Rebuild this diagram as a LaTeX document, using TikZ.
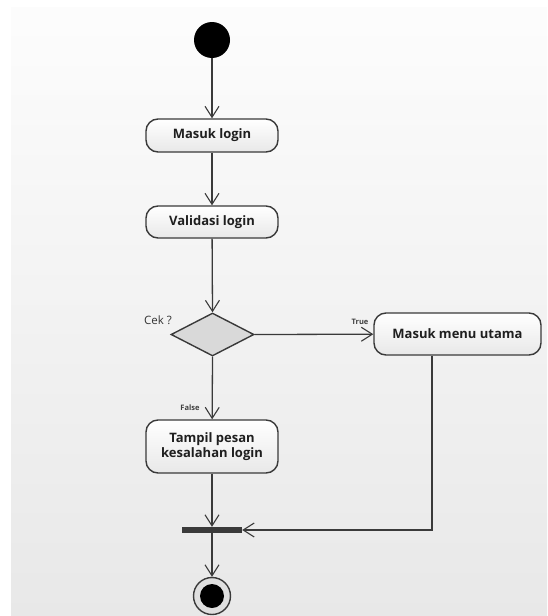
\documentclass[tikz,border=0pt]{standalone}
\usepackage{fontspec}
\setmainfont{Open Sans}
\usetikzlibrary{arrows.meta,shapes.geometric}
\definecolor{lineC}{HTML}{3A3A3A}
\tikzset{
  act/.style={rounded corners=12pt, draw=lineC, line width=1.4pt, top color=white, bottom color=gray!18,
    font=\fontsize{13}{15.5}\selectfont\bfseries, text=black!88, align=center, inner sep=0pt},
  flow/.style={draw=lineC, line width=1.3pt, -{Straight Barb[length=11pt,width=14pt,line width=1.1pt]}},
  smalllbl/.style={font=\fontsize{7.5}{8}\selectfont\bfseries, text=black!75},
}
\begin{document}
\begin{tikzpicture}[x=1pt,y=-1pt]
\useasboundingbox (0,0) rectangle (547,616);
\fill[white] (0,0) rectangle (547,616);
\shade[top color=black!1, bottom color=black!9] (11,7) rectangle (547,616);

\node[circle, fill=black, minimum size=36pt, inner sep=0pt] (start) at (212,40) {};
\node[act, minimum width=132pt, minimum height=33pt] (masuk) at (212,135.5) {Masuk login};
\node[act, minimum width=132pt, minimum height=32pt] (valid) at (212,222) {Validasi login};
\node[diamond, draw=lineC, line width=1.4pt, fill=gray!30, minimum width=83pt, minimum height=43pt, inner sep=0pt] (cek) at (212.5,334.5) {};
\node[act, minimum width=167pt, minimum height=42pt] (menu) at (457.5,334) {Masuk menu utama};
\node[act, minimum width=132pt, minimum height=53pt] (tampil) at (212,446.5) {Tampil pesan\\kesalahan login};
\node[fill=lineC, minimum width=60pt, minimum height=6pt, inner sep=0pt] (bar) at (212,530) {};
\node[circle, draw=lineC, line width=1.4pt, fill=gray!25, minimum size=37pt, inner sep=0pt] (endo) at (212,596) {};
\node[circle, fill=black, minimum size=24pt, inner sep=0pt] (endi) at (212,596) {};

\node[font=\fontsize{11.5}{13}\selectfont, text=black!80] (ceklbl) at (158,320) {Cek ?};
\node[smalllbl] (truelbl) at (360,322) {True};
\node[smalllbl] (falselbl) at (190,408) {False};

\draw[flow] (start) -- (masuk);
\draw[flow] (masuk) -- (valid);
\draw[flow] (valid) -- (cek.north);
\draw[flow] (cek.east) -- (menu);
\draw[flow] (cek.south) -- (tampil);
\draw[flow] (tampil) -- (bar);
\coordinate (corner) at (432,530);
\draw[flow] (menu.south -| corner) -- (corner) -- (bar.east);
\draw[flow] (bar) -- (endo);
\end{tikzpicture}
\end{document}
